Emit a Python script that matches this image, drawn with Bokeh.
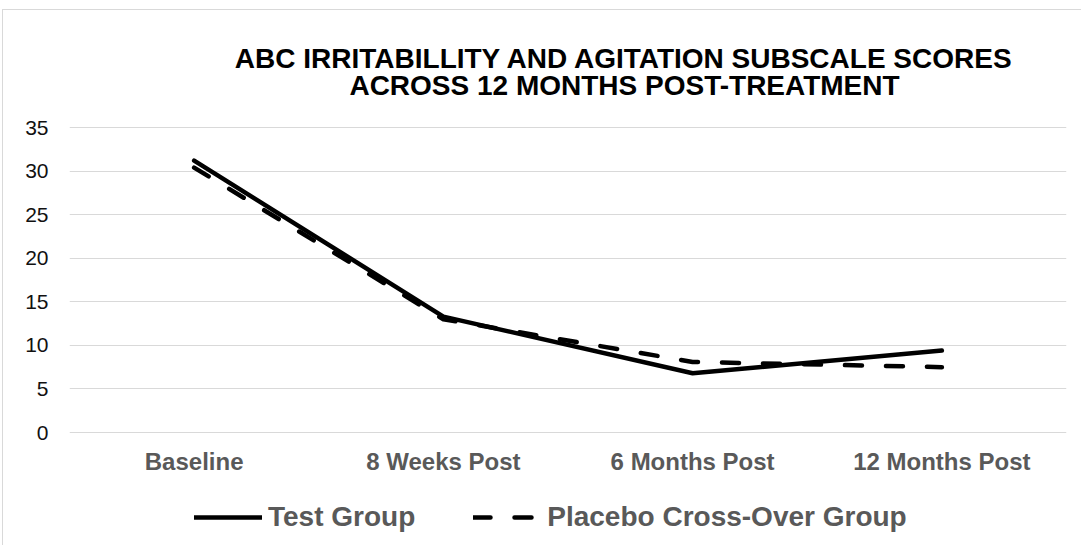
from bokeh.plotting import figure
from bokeh.models import FactorRange, Range1d, FixedTicker, Label, Legend, LegendItem
from bokeh.embed import file_html
from bokeh.resources import INLINE

categories = ["Baseline", "8 Weeks Post", "6 Months Post", "12 Months Post"]
test_group = [31.2, 13.3, 6.8, 9.4]
placebo_group = [30.4, 13.0, 8.1, 7.5]
y_ticks = [0, 5, 10, 15, 20, 25, 30, 35]
title_lines = ["ABC IRRITABILLITY AND AGITATION SUBSCALE SCORES",
               "ACROSS 12 MONTHS POST-TREATMENT"]
series_names = ["Test Group", "Placebo Cross-Over Group"]

FONT = "Liberation Sans"
# the frame reaches above the top tick (title room) and below zero (legend room)
PX_PER_UNIT = 305 / 35
Y_START = -109 / PX_PER_UNIT
Y_END = 413 / PX_PER_UNIT

p = figure(width=1079, height=536, x_range=FactorRange(*categories, range_padding=0),
           y_range=Range1d(Y_START, Y_END), output_backend="svg", toolbar_location=None,
           min_border_left=66, min_border_right=16, min_border_top=9, min_border_bottom=5,
           styles={"position": "relative", "left": "2px", "top": "9px",
                   "border-top": "1px solid #d9d9d9", "border-left": "1px solid #d9d9d9"})
p.outline_line_color = None
p.background_fill_color = "white"
p.border_fill_color = "white"

# grid
p.xgrid.grid_line_color = None
p.ygrid.grid_line_color = "#d9d9d9"
p.ygrid.grid_line_width = 1
p.yaxis.ticker = FixedTicker(ticks=y_ticks)

# axes
for ax in (p.xaxis, p.yaxis):
    ax.axis_line_color = None
    ax.major_tick_line_color = None
    ax.minor_tick_line_color = None
    ax.major_tick_out = 0
    ax.major_tick_in = 0
p.yaxis.major_label_text_font = FONT
p.yaxis.major_label_text_font_size = "21px"
p.yaxis.major_label_text_color = "#111111"
p.yaxis.major_label_standoff = 21
p.xaxis.major_label_text_font = FONT
p.xaxis.major_label_text_font_size = "24px"
p.xaxis.major_label_text_font_style = "bold"
p.xaxis.major_label_text_color = "#595959"
p.xaxis.major_label_standoff = -94

r1 = p.line(categories, test_group, line_color="black", line_width=4.5,
            line_cap="round", line_join="round")
r2 = p.line(categories, placebo_group, line_color="black", line_width=4.5,
            line_dash="17 24", line_cap="round", line_join="round")

legend = Legend(items=[LegendItem(label=series_names[0], renderers=[r1]),
                       LegendItem(label=series_names[1], renderers=[r2])],
                location=(125, 8), orientation="horizontal",
                padding=0, margin=0, spacing=58, glyph_width=68, glyph_height=32,
                label_standoff=6, label_height=32, label_text_font=FONT,
                label_text_font_size="28px",
                label_text_font_style="bold", label_text_color="#595959",
                background_fill_alpha=0, border_line_color=None)
p.add_layout(legend, "center")

for txt, yy in zip(title_lines, [483, 456]):
    p.add_layout(Label(x=555, y=yy, x_units="screen", y_units="screen", text=txt,
                       text_align="center", text_baseline="alphabetic",
                       text_font=FONT, text_font_size="28px", text_font_style="bold",
                       text_color="black"))

open("out.html", "w").write(file_html(p, INLINE))
